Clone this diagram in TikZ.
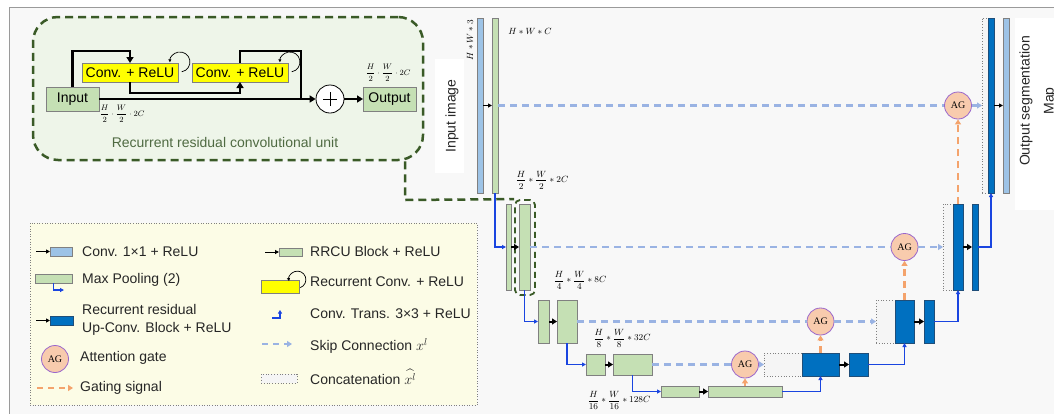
\documentclass[tikz,border=0pt]{standalone}
\usepackage{amsmath}
\usepackage{fontspec}
\setmainfont{Liberation Sans}
\newfontfamily\serifAG{Liberation Serif}
\usetikzlibrary{arrows.meta}
\definecolor{cblue}{HTML}{9DC3E6}
\definecolor{cgreen}{HTML}{C5E0B4}
\definecolor{cdark}{HTML}{0070C0}
\definecolor{cdarkb}{HTML}{1F4E79}
\definecolor{cgray}{HTML}{808080}
\definecolor{cag}{HTML}{F8CBAD}
\definecolor{cagb}{HTML}{9966CC}
\definecolor{cskip}{HTML}{9AB3E3}
\definecolor{cgate}{HTML}{F4A36C}
\definecolor{cline}{HTML}{1A45E0}
\definecolor{cinset}{HTML}{EEF5E9}
\definecolor{cinsetb}{HTML}{3A5A27}
\definecolor{clegend}{HTML}{FCFCE6}
\definecolor{cbg}{HTML}{F8F8F8}
\definecolor{ccap}{HTML}{4F6A42}
\definecolor{cyel}{HTML}{FFFF00}
\definecolor{cconcat}{HTML}{F5F5F5}
\definecolor{ctext}{HTML}{262626}
\tikzset{
 blkbase/.style={rectangle, inner sep=0pt, outer sep=0pt, line width=0.8pt},
 lbox/.style={blkbase, fill=cblue, draw=cgray},
 gbox/.style={blkbase, fill=cgreen, draw=cgray},
 dbox/.style={blkbase, fill=cdark, draw=cdarkb},
 cbox/.style={blkbase, fill=cconcat, draw=cgray, dotted},
 ybox/.style={blkbase, fill=cyel, draw=cgray},
 ag/.style={circle, fill=cag, draw=cagb, line width=0.8pt, minimum size=27pt, inner sep=0pt, font=\serifAG\fontsize{10}{10}\selectfont},
 skip/.style={draw=cskip, line width=2.4pt, dash pattern=on 7pt off 5pt, -{Triangle[length=5pt,width=6pt]}},
 gate/.style={draw=cgate, line width=2.2pt, dash pattern=on 7pt off 5pt, -{Triangle[length=5pt,width=6pt]}},
 bl/.style={draw=cline, line width=1.5pt, -{Triangle[length=4pt,width=4pt]}},
 thk/.style={draw=black, line width=2pt, -{Triangle[length=5pt,width=6pt]}},
 thn/.style={draw=black, line width=1pt, -{Triangle[length=4pt,width=4pt]}},
 inl/.style={draw=black, line width=2.5pt},
 inla/.style={inl, -{Triangle[length=6pt,width=7pt]}},
 loopa/.style={draw=black, line width=0.7pt, -{Triangle[length=3pt,width=3pt]}},
 gdash/.style={draw=cinsetb, line width=2.5pt, dash pattern=on 8pt off 5pt},
 ltext/.style={anchor=west, inner sep=0pt, text=ctext, font=\fontsize{14}{18}\selectfont, align=left},
 dim/.style={inner sep=0pt, font=\fontsize{9}{11}\selectfont},
 dimsm/.style={inner sep=0pt, font=\fontsize{8.5}{10}\selectfont},
 wbox/.style={fill=white, draw=none, inner sep=0pt},
 intext/.style={font=\fontsize{14}{17}\selectfont, inner sep=0pt},
}
\begin{document}
\begin{tikzpicture}[x=1pt,y=1pt]
\path[use as bounding box, clip] (0,0) rectangle (1054,-413);
% background frame
\fill[cbg] (9,-7) rectangle (1060,-420);
\draw[cgray!80, line width=0.8pt] (9,-420) -- (9,-7) -- (1060,-7);
% white text panels
\node[wbox, minimum width=29pt, minimum height=114pt] (inpanel) at (449.5,-116) {};
\node[wbox, minimum width=45pt, minimum height=192pt] (outpanel) at (1037.5,-114) {};
\node[rotate=90, intext, text=ctext] (intxt) at (452,-116) {Input image};
\node[rotate=90, intext, text=ctext, align=center, font=\fontsize{14}{24}\selectfont] (outtxt) at (1038,-101) {Output segmentation\\Map};

% ---------- inset ----------
\node[draw=cinsetb, fill=cinset, line width=2.5pt, dash pattern=on 8pt off 5pt, rounded corners=25pt,
      minimum width=390pt, minimum height=143pt, inner sep=0pt] (inset) at (228,-88.5) {};
\node[gbox, minimum width=53pt, minimum height=24pt, intext] (inp) at (72.5,-99) {Input};
\node[ybox, minimum width=96pt, minimum height=19pt, intext] (cv1) at (130,-72.5) {Conv. + ReLU};
\node[ybox, minimum width=96pt, minimum height=19pt, intext] (cv2) at (240,-72.5) {Conv. + ReLU};
\node[circle, draw=black, line width=0.8pt, fill=white, minimum size=28pt, inner sep=0pt] (plus) at (330,-99) {};
\draw[line width=0.8pt] (plus.center) ++(-7,0) -- ++(14,0);
\draw[line width=0.8pt] (plus.center) ++(0,-7) -- ++(0,14);
\node[gbox, minimum width=53pt, minimum height=24pt, intext] (outp) at (389.5,-99) {Output};
\coordinate (j1) at (72.5,-51);
\coordinate (j2) at (130,-93);
\coordinate (j3) at (240,-51);
\coordinate (j4) at (301,-99);
\draw[inla] (inp.north) -- (j1) -| (cv1.north);
\draw[inla] (cv1.south) -- (j2) -| (cv2.south);
\draw[inl] (cv2.north) -- (j3) -| (j4);
\draw[inla] (inp.east) -- (plus.west);
\draw[inla] (plus.east) -- (outp.west);
\draw[loopa] (cv1.east) ++(3.7,0.7) arc[start angle=-80, end angle=182, radius=10pt];
\draw[loopa] (cv2.east) ++(3.7,0.7) arc[start angle=-80, end angle=182, radius=10pt];
\node[dimsm] (lblin) at (122,-114) {$\dfrac{H}{2}\cdot\dfrac{W}{2}\cdot 2C$};
\node[dimsm] (lblout) at (388,-73) {$\dfrac{H}{2}\cdot\dfrac{W}{2}\cdot 2C$};
\node[intext, text=ccap] (cap) at (225,-142) {Recurrent residual convolutional unit};

% ---------- legend ----------
\node[draw=cgray, dotted, fill=clegend, line width=0.6pt, minimum width=447pt, minimum height=182pt, inner sep=0pt] (legend) at (253.5,-314) {};
% left column
\node[lbox, minimum width=22pt, minimum height=9pt] (lg1) at (61,-251.5) {};
\coordinate (lg1s) at (36,-251.5);
\draw[thn] (lg1s) -- (lg1.west);
\node[ltext] (lt1) at (82,-252) {Conv. 1×1 + ReLU};
\node[gbox, minimum width=37pt, minimum height=9pt] (lg2) at (53.5,-278.5) {};
\coordinate (lg2e) at (64,-290);
\draw[bl, line width=1.2pt] (lg2.south) |- (lg2e);
\node[ltext] (lt2) at (82,-280) {Max Pooling (2)};
\node[dbox, minimum width=23pt, minimum height=9pt] (lg3) at (61.5,-320.5) {};
\coordinate (lg3s) at (36,-320.5);
\draw[thn] (lg3s) -- (lg3.west);
\node[ltext] (lt3) at (82,-320) {Recurrent residual\\Up-Conv. Block + ReLU};
\node[ag] (lg4) at (55,-359) {AG};
\node[ltext] (lt4) at (80,-358) {Attention gate};
\coordinate (lg5s) at (37,-388);
\coordinate (lg5e) at (73,-388);
\draw[gate, line width=1.8pt, dash pattern=on 6pt off 5pt] (lg5s) -- (lg5e);
\node[ltext] (lt5) at (80,-388) {Gating signal};
% right column
\node[gbox, minimum width=23pt, minimum height=8pt] (lr1) at (290.5,-252) {};
\coordinate (lr1s) at (265,-252);
\draw[thn] (lr1s) -- (lr1.west);
\node[ltext] (rt1) at (310,-251) {RRCU Block + ReLU};
\node[ybox, minimum width=38pt, minimum height=13pt] (lr2) at (280,-286.5) {};
\draw[loopa] (lr2.north east) ++(1.3,-7.6) arc[start angle=-70, end angle=190, radius=8.5pt];
\node[ltext] (rt2) at (310,-282) {Recurrent Conv. + ReLU};
\coordinate (lr3s) at (272,-318);
\coordinate (lr3e) at (280,-310);
\draw[bl, line width=1.2pt, -{Triangle[length=3.5pt,width=4pt]}] (lr3s) -| (lr3e);
\node[ltext] (rt3) at (310,-314) {Conv. Trans. 3×3 + ReLU};
\coordinate (lr4s) at (262,-344);
\coordinate (lr4e) at (292,-344);
\draw[skip, line width=1.8pt, dash pattern=on 6pt off 5pt] (lr4s) -- (lr4e);
\node[ltext] (rt4) at (310,-346) {Skip Connection $x^{l}$};
\node[cbox, minimum width=36pt, minimum height=9pt] (lr5) at (279,-378.5) {};
\node[ltext] (rt5) at (310,-377) {Concatenation~$\widehat{x^{l}}$};

% ---------- encoder ----------
\node[lbox, minimum width=6pt, minimum height=175pt] (in1) at (480,-105.5) {};
\node[gbox, minimum width=6pt, minimum height=175pt] (e1) at (495,-105.5) {};
\node[gbox, minimum width=5pt, minimum height=86pt] (e2a) at (508.5,-247) {};
\node[gbox, minimum width=11pt, minimum height=86pt] (e2b) at (524.5,-247) {};
\node[draw=cinsetb, line width=1.8pt, dash pattern=on 6pt off 4pt, rounded corners=5pt, minimum width=20pt, minimum height=95pt, inner sep=0pt] (rbox) at (525,-247.5) {};
\node[gbox, minimum width=11pt, minimum height=43pt] (e3a) at (543.5,-321.5) {};
\node[gbox, minimum width=20pt, minimum height=43pt] (e3b) at (567,-321.5) {};
\node[gbox, minimum width=19pt, minimum height=21pt] (e4a) at (595.5,-364.5) {};
\node[gbox, minimum width=39pt, minimum height=21pt] (e4b) at (632.5,-364.5) {};
\node[gbox, minimum width=38pt, minimum height=11pt] (e5a) at (680,-391.5) {};
\node[gbox, minimum width=74pt, minimum height=11pt] (e5b) at (745,-391.5) {};
% inset connector
\coordinate (jn) at (405,-200);
\draw[gdash] (inset.south -| jn) -- (jn) -- (rbox.north west);

% ---------- decoder ----------
\node[cbox, minimum width=38pt, minimum height=23pt] (c4) at (783,-364.5) {};
\node[dbox, minimum width=37pt, minimum height=23pt] (d4a) at (820.5,-364.5) {};
\node[dbox, minimum width=19pt, minimum height=23pt] (d4b) at (858.5,-364.5) {};
\node[cbox, minimum width=19pt, minimum height=43pt] (c3) at (885.5,-321.5) {};
\node[dbox, minimum width=19pt, minimum height=43pt] (d3a) at (904.5,-321.5) {};
\node[dbox, minimum width=10pt, minimum height=43pt] (d3b) at (929,-321.5) {};
\node[cbox, minimum width=10pt, minimum height=86pt] (c2) at (948,-247) {};
\node[dbox, minimum width=10pt, minimum height=86pt] (d2a) at (958,-247) {};
\node[dbox, minimum width=6pt, minimum height=86pt] (d2b) at (975,-247) {};
\node[cbox, minimum width=6pt, minimum height=175pt] (c1) at (985,-105.5) {};
\node[dbox, minimum width=6pt, minimum height=175pt] (d1a) at (991,-105.5) {};
\node[lbox, minimum width=6pt, minimum height=175pt] (out) at (1006,-105.5) {};

% attention gates
\node[ag] (ag1) at (958,-105.5) {AG};
\node[ag] (ag2) at (904.5,-247) {AG};
\node[ag] (ag3) at (820.5,-321.5) {AG};
\node[ag] (ag4) at (745,-364.5) {AG};

% skip connections
\draw[skip, -] (e1.east) -- (ag1.west);
\draw[skip] (ag1.east) -- (c1.west);
\draw[skip, -] (e2b.east) -- (ag2.west);
\draw[skip] (ag2.east) -- (c2.west);
\draw[skip, -] (e3b.east) -- (ag3.west);
\draw[skip] (ag3.east) -- (c3.west);
\draw[skip, -] (e4b.east) -- (ag4.west);
\draw[skip] (ag4.east) -- (c4.west);

% gating
\draw[gate] (e5b.north) -- (ag4.south);
\draw[gate] (d4a.north) -- (ag3.south);
\draw[gate] (d3a.north) -- (ag2.south);
\draw[gate] (d2a.north) -- (ag1.south);

% black block arrows
\draw[thn] (in1.east) -- (e1.west);
\draw[thk] (e2a.east) -- (e2b.west);
\draw[thk] (e3a.east) -- (e3b.west);
\draw[thk] (e4a.east) -- (e4b.west);
\draw[thk] (e5a.east) -- (e5b.west);
\draw[thk] (d4a.east) -- (d4b.west);
\draw[thk] (d3a.east) -- (d3b.west);
\draw[thk] (d2a.east) -- (d2b.west);
\draw[thn] (d1a.east) -- (out.west);

% pooling and up-conv lines
\draw[bl] (e1.south) |- (e2a.west);
\draw[bl] (e2b.south) |- (e3a.west);
\draw[bl] (e3b.south) |- (e4a.west);
\draw[bl] (e4b.south) |- (e5a.west);
\draw[bl] (e5b.east) -| (d4a.south);
\draw[bl] (d4b.east) -| (d3a.south);
\draw[bl] (d3b.east) -| (d2a.south);
\draw[bl] (d2b.east) -| (d1a.south);

% dimension labels
\node[dim, rotate=90] (l0) at (470,-40) {$H*W*3$};
\node[dim] (l1) at (530,-31) {$H*W*C$};
\node[dim] (l2) at (542,-180) {$\dfrac{H}{2}*\dfrac{W}{2}*2C$};
\node[dim] (l3) at (580,-280) {$\dfrac{H}{4}*\dfrac{W}{4}*8C$};
\node[dim] (l4) at (622,-338) {$\dfrac{H}{8}*\dfrac{W}{8}*32C$};
\node[dim] (l5) at (619,-400) {$\dfrac{H}{16}*\dfrac{W}{16}*128C$};
\end{tikzpicture}
\end{document}
